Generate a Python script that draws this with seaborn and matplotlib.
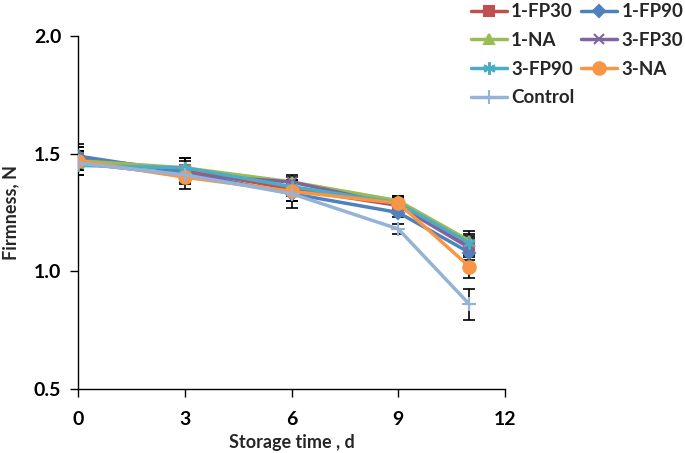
import numpy as np
import pandas as pd
import matplotlib
matplotlib.use("Agg")
import matplotlib.pyplot as plt
import seaborn as sns

# dados
days = [0, 3, 6, 9, 11]
treatments = ['1-FP30', '1-FP90', '1-NA', '3-FP30', '3-FP90', '3-NA', 'Control']
firmness = {
    '1-FP30': [1.48, 1.43, 1.35, 1.28, 1.11],
    '1-FP90': [1.49, 1.42, 1.33, 1.25, 1.08],
    '1-NA': [1.47, 1.44, 1.38, 1.30, 1.13],
    '3-FP30': [1.46, 1.41, 1.38, 1.28, 1.10],
    '3-FP90': [1.45, 1.44, 1.36, 1.29, 1.12],
    '3-NA': [1.47, 1.40, 1.34, 1.29, 1.02],
    'Control': [1.46, 1.41, 1.33, 1.18, 0.86],
}
errors = {
    '1-FP30': [0.05, 0.04, 0.03, 0.03, 0.04],
    '1-FP90': [0.05, 0.03, 0.03, 0.02, 0.03],
    '1-NA': [0.04, 0.04, 0.02, 0.02, 0.04],
    '3-FP30': [0.05, 0.03, 0.03, 0.03, 0.04],
    '3-FP90': [0.04, 0.04, 0.03, 0.02, 0.04],
    '3-NA': [0.06, 0.05, 0.04, 0.03, 0.05],
    'Control': [0.05, 0.04, 0.06, 0.02, 0.065],
}

colors = ['#C0504D', '#4F81BD', '#9BBB59', '#8064A2', '#4BACC6', '#F79646', '#95B3D7']
markers = ['s', 'D', '^', 'x', (6, 2, 0), 'o', '+']
sizes = [7, 6, 7, 7, 9, 9, 10]

rows = []
for t in treatments:
    for d, v, e in zip(days, firmness[t], errors[t]):
        rows.append({'day': d, 'firmness': v, 'err': e, 'treatment': t})
df = pd.DataFrame(rows)

sns.set_style("white")
plt.rcParams['font.family'] = ['Lato', 'DejaVu Sans']
plt.rcParams['font.weight'] = 'bold'

fig = plt.figure(figsize=(6.85, 4.53), dpi=100)
ax = fig.add_axes([78 / 685, 1 - 389 / 453, (505 - 78) / 685, (389 - 36) / 453])

for i, t in enumerate(treatments):
    sub = df[df['treatment'] == t]
    ax.errorbar(sub['day'], sub['firmness'], yerr=sub['err'], fmt='none',
                ecolor='black', elinewidth=1.2, capsize=4, capthick=1.2, zorder=2)

for i, t in enumerate(treatments):
    sub = df[df['treatment'] == t]
    sns.lineplot(data=sub, x='day', y='firmness', ax=ax, color=colors[i],
                 marker=markers[i], markersize=sizes[i], markeredgecolor=colors[i],
                 markeredgewidth=1.5, linewidth=2.5, label=t, zorder=3)

ax.set_xlim(0, 12)
ax.set_ylim(0.5, 2.0)
ax.set_xticks([0, 3, 6, 9, 12])
ax.set_yticks([0.5, 1.0, 1.5, 2.0])
ax.set_yticklabels(['0.5', '1.0', '1.5', '2.0'])
ax.tick_params(axis='both', direction='out', length=6, width=1, colors='black',
               labelsize=14, left=True, bottom=True)
ax.tick_params(axis='x', pad=10)
ax.tick_params(axis='y', pad=6)
for lab in ax.get_xticklabels() + ax.get_yticklabels():
    lab.set_fontweight('bold')
sns.despine(ax=ax)
for s in ['left', 'bottom']:
    ax.spines[s].set_color('black')
    ax.spines[s].set_linewidth(1)

ax.set_xlabel('Storage time , d', fontsize=13, fontweight='bold', labelpad=4)
ax.set_ylabel('Firmness, N', fontsize=13, fontweight='bold')
ax.yaxis.set_label_coords(-0.137, 0.5)

# legenda em ordem de linhas (como no Excel)
handles, labels = ax.get_legend_handles_labels()
ax.get_legend().remove()
order = [0, 2, 4, 6, 1, 3, 5]
fig.legend([handles[k] for k in order], [labels[k] for k in order],
           loc='upper right', bbox_to_anchor=(1.022, 1.03), ncol=2,
           frameon=False, handlelength=1.9, columnspacing=0.35,
           labelspacing=0.62, handletextpad=0.25, prop={'weight': 'bold', 'size': 13.5})

plt.savefig('out.png', dpi=100)
plt.close()
